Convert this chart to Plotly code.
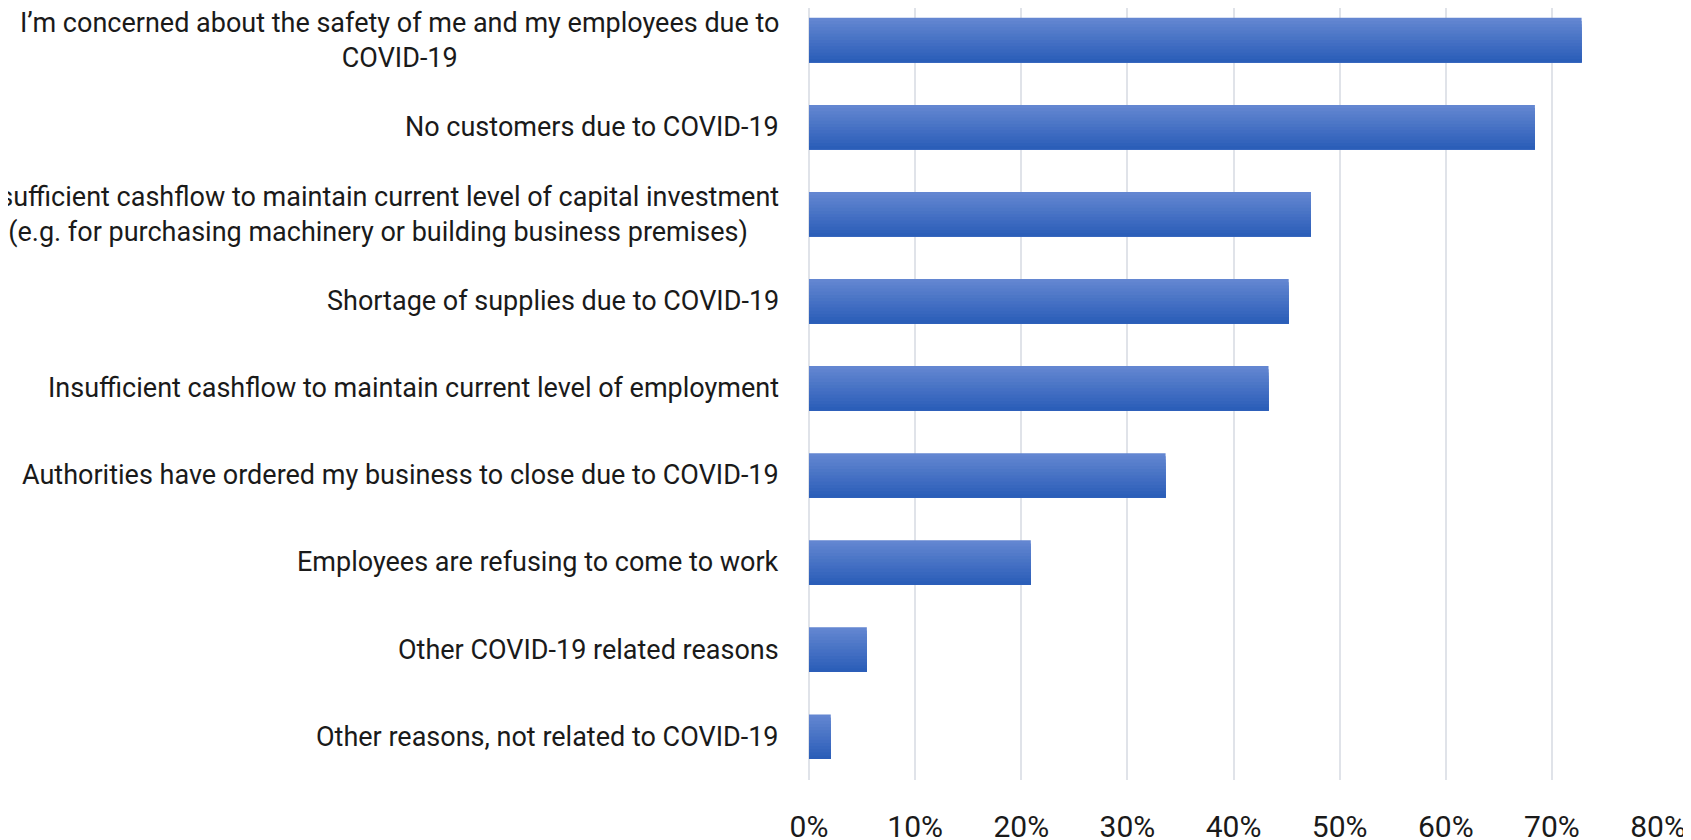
import plotly.graph_objects as go

reasons = [
    "I’m concerned about the safety of me and my employees due to<br>COVID-19",
    "No customers due to COVID-19",
    "Insufficient cashflow to maintain current level of capital investment<br>(e.g. for purchasing machinery or building business premises)",
    "Shortage of supplies due to COVID-19",
    "Insufficient cashflow to maintain current level of employment",
    "Authorities have ordered my business to close due to COVID-19",
    "Employees are refusing to come to work",
    "Other COVID-19 related reasons",
    "Other reasons, not related to COVID-19",
]
share = [72.8, 68.4, 47.3, 45.2, 43.3, 33.6, 20.9, 5.45, 2.05]

# bar gradient: light on top, darker at the bottom
top_rgb = (99, 134, 209)
bot_rgb = (43, 94, 184)
n_slices = 14
bar_w = 0.51
step = bar_w / n_slices

fig = go.Figure()
for i in range(n_slices):
    t = i / (n_slices - 1)
    c = tuple(round(a + (b - a) * t) for a, b in zip(top_rgb, bot_rgb))
    fig.add_trace(go.Bar(
        x=share,
        y=reasons,
        orientation="h",
        width=bar_w - i * step,
        offset=-bar_w / 2 + i * step,
        marker=dict(color="rgb(%d,%d,%d)" % c, line=dict(width=0)),
        showlegend=False,
        hoverinfo="x+y",
    ))

# category labels as annotations so that two-line labels are centred
for r in reasons:
    fig.add_annotation(
        x=0, xref="paper", xanchor="right", xshift=-28,
        y=r, yref="y", yanchor="middle",
        text=r, align="center", showarrow=False,
        font=dict(size=27, family="Roboto", color="#1a1a1a"),
    )

# page body has an 8px margin, so the figure is a little smaller than the window
fig.update_layout(
    width=1683,
    height=832,
    margin=dict(l=801, r=33, t=0, b=60, autoexpand=False),
    plot_bgcolor="white",
    paper_bgcolor="white",
    barmode="overlay",
    font=dict(family="Roboto", color="#1a1a1a"),
)
fig.update_xaxes(
    range=[0, 80],
    dtick=10,
    ticksuffix="%",
    showgrid=True,
    gridcolor="#e0e3e9",
    gridwidth=2,
    zeroline=True,
    zerolinecolor="#e0e3e9",
    zerolinewidth=2,
    showline=False,
    tickfont=dict(size=30, family="Roboto", color="#1a1a1a"),
    ticklabelstandoff=26,
    automargin=False,
)
fig.update_yaxes(
    type="category",
    range=[8.498, -0.3675],
    showgrid=False,
    showline=False,
    zeroline=False,
    showticklabels=False,
    automargin=False,
)

fig.write_html("out.html")
